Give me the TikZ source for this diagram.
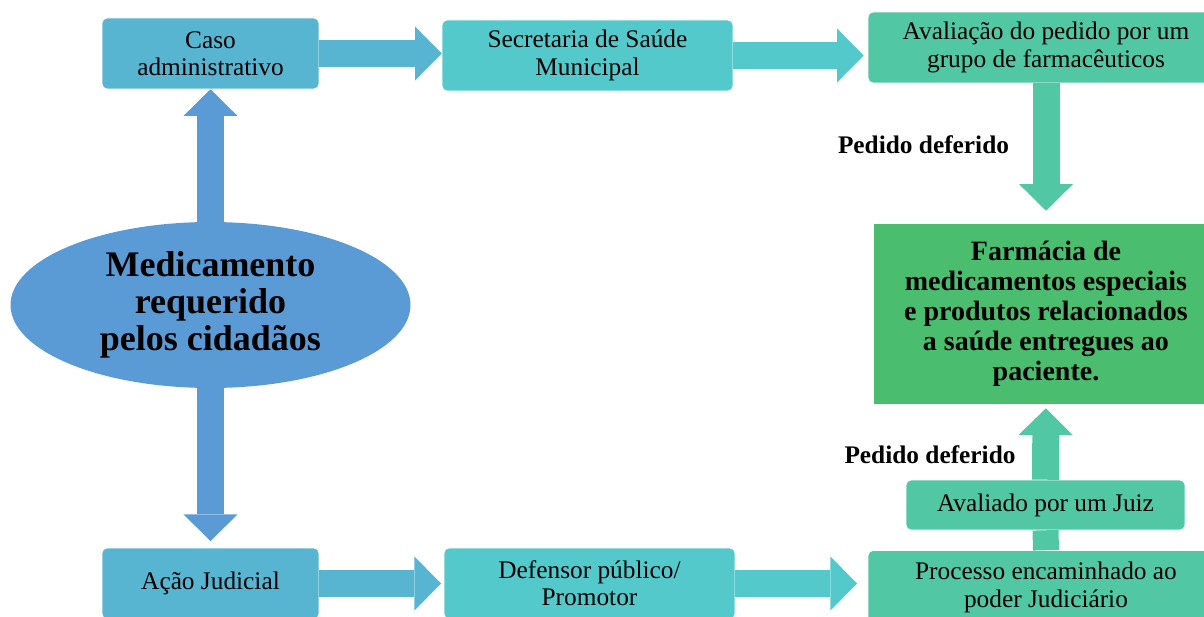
\documentclass[tikz,border=0pt]{standalone}
\usepackage{fontspec}
\setmainfont{Liberation Serif}
\usetikzlibrary{arrows.meta,shapes.geometric}
\definecolor{casoblue}{RGB}{88,181,209}
\definecolor{secturq}{RGB}{84,201,204}
\definecolor{avalgreen}{RGB}{81,200,163}
\definecolor{farmgreen}{RGB}{74,190,110}
\definecolor{medblue}{RGB}{91,155,213}
\tikzset{>=Triangle}

\begin{document}
\begin{tikzpicture}[x=0.75pt,y=-0.75pt,
    box/.style={rectangle,rounded corners=4pt,draw=white,thin,inner sep=0pt,
      align=center,font=\fontsize{19}{20.5}\selectfont},
    fat/.style={line width=20.25pt,-{Triangle[width=40.5pt,length=20pt,line width=0pt]}},
    bar/.style={line width=19.5pt},
    lbl/.style={font=\fontsize{19}{21}\selectfont\bfseries}]
      \path[use as bounding box] (0,0) rectangle (1204,617);
      \clip (0,0) rectangle (1204,617);
      % left column
      \node[ellipse,fill=medblue,inner sep=0pt,minimum width=300pt,minimum height=124.5pt,
        align=center,font=\fontsize{27}{28}\selectfont\bfseries] (med) at (210.5,305)
        {Medicamento\\requerido\\pelos cidadãos};
      \node[box,fill=casoblue,minimum width=162.75pt,minimum height=53.25pt] (caso) at (210.5,53.5)
        {Caso\\administrativo};
      \node[box,fill=casoblue,minimum width=162.75pt,minimum height=53.25pt] (acao) at (210.5,583.5)
        {Ação Judicial};
      % middle column
      \node[box,fill=secturq,minimum width=218.25pt,minimum height=53.25pt] (sec) at (587.5,55.5)
        {Secretaria de Saúde\\Municipal};
      \node[box,fill=secturq,minimum width=218.25pt,minimum height=53.25pt] (def) at (589.5,583.5)
        {Defensor público/\\Promotor};
      % right column
      \node[box,fill=avalgreen,minimum width=267pt,minimum height=53.25pt] (aval) at (1046,47.5)
        {Avaliação do pedido por um\\grupo de farmacêuticos};
      \node[box,fill=avalgreen,minimum width=267pt,minimum height=55.5pt] (proc) at (1046,587.5)
        {Processo encaminhado ao\\poder Judiciário};
      \node[box,fill=avalgreen,minimum width=209.25pt,minimum height=37.5pt] (juiz) at (1045.5,505)
        {Avaliado por um Juiz};
      \node[rectangle,fill=farmgreen,inner sep=0pt,minimum width=258pt,minimum height=135pt,
        align=center,font=\fontsize{21}{22.5}\selectfont\bfseries] (farm) at (1046,314)
        {Farmácia de\\medicamentos especiais\\e produtos relacionados\\a saúde entregues ao\\paciente.};
      % connectors
      \draw[fat,medblue] (med.north) -- (caso.south);
      \draw[fat,medblue,shorten >=5pt] (med.south) -- (acao.north);
      \draw[fat,casoblue] (caso.east) -- (caso.east -| sec.west);
      \draw[fat,casoblue,shorten >=2pt] (acao.east) -- (acao.east -| def.west);
      \draw[fat,secturq,shorten >=3pt] (sec.east) -- (sec.east -| aval.west);
      \draw[fat,secturq,shorten >=8pt] (def.east) -- (def.east -| proc.west);
      \draw[fat,avalgreen,shorten >=9.75pt] (aval.south) -- (farm.north);
      \draw[bar,avalgreen] (proc.north) -- (juiz.south);
      \draw[fat,avalgreen,shorten >=3pt] (juiz.north) -- (farm.south);
      % labels
      \node[lbl] (ok1) at (923.5,145) {Pedido deferido};
      \node[lbl] (ok2) at (930,455) {Pedido deferido};
\end{tikzpicture}
\end{document}
